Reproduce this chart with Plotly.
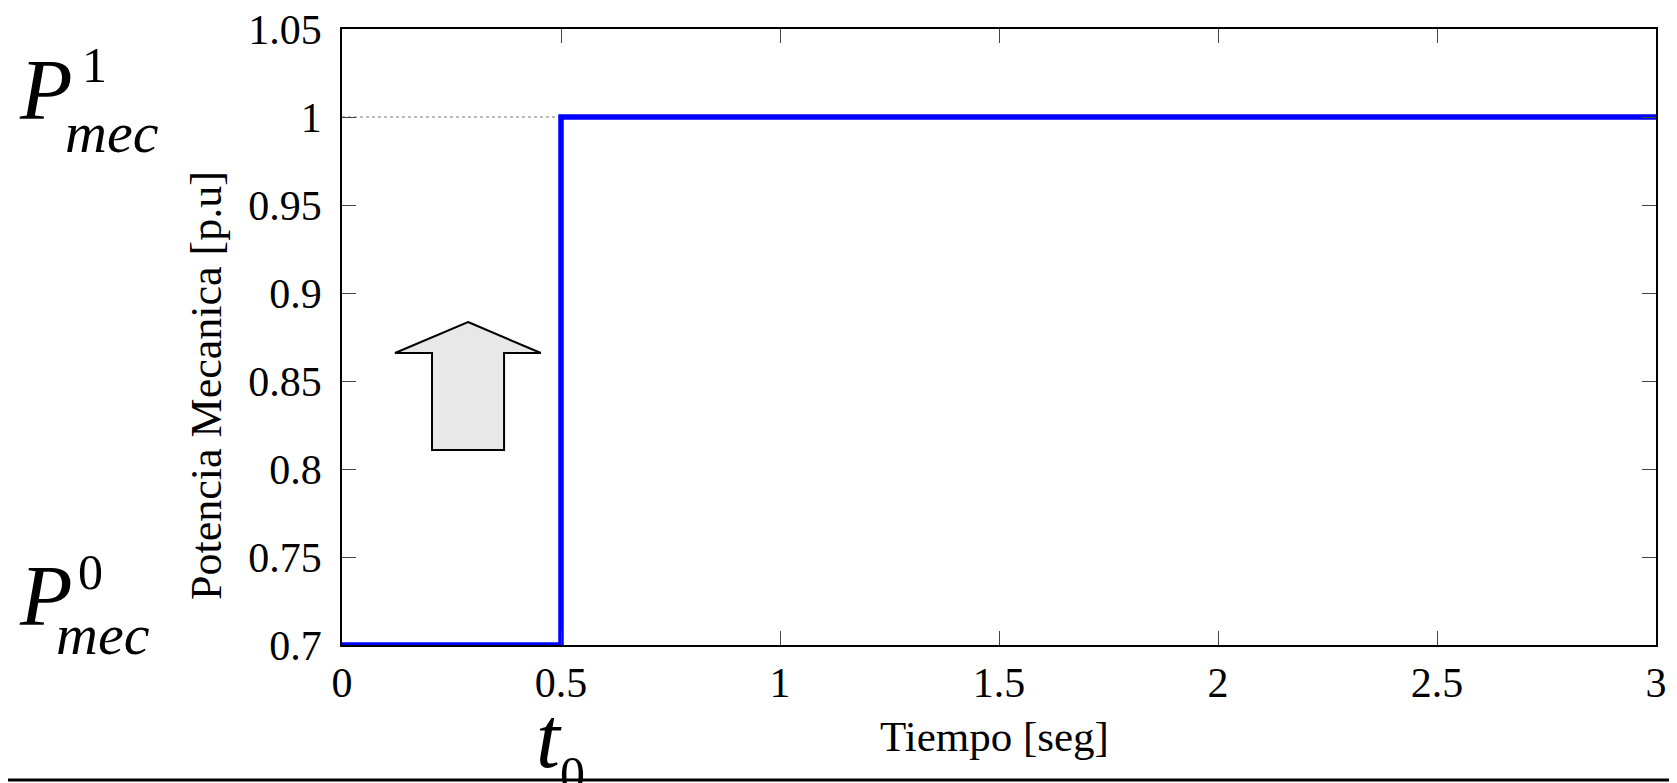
import plotly.graph_objects as go

# ---- data ----
t_step = [0, 0.5, 0.5, 3]
p_mec = [0.7, 0.7, 1.0, 1.0]
t_ref = [0, 0.5]
p_ref = [1.0, 1.0]
x_ticks = [0, 0.5, 1, 1.5, 2, 2.5, 3]
x_ticklabels = ["0", "0.5", "1", "1.5", "2", "2.5", "3"]
y_ticks = [0.7, 0.75, 0.8, 0.85, 0.9, 0.95, 1.0, 1.05]
y_ticklabels = ["0.7", "0.75", "0.8", "0.85", "0.9", "0.95", "1", "1.05"]

W, H = 1677, 783
OFF = 8  # page body margin
L, R, T, B = 334, 29, 21, 146
PW, PH = W - L - R, H - T - B

def px(xw):
    return (xw - OFF - L) / PW

def py(yw):
    return (H - B - (yw - OFF)) / PH

FONT = "Liberation Serif, Times New Roman, serif"

fig = go.Figure()
fig.add_trace(go.Scatter(x=t_ref, y=p_ref, mode="lines",
                         line=dict(color="#777777", width=1, dash="dot"),
                         showlegend=False, hoverinfo="skip"))
fig.add_trace(go.Scatter(x=t_step, y=p_mec, mode="lines",
                         line=dict(color="#0000ff", width=5.5),
                         showlegend=False))

axis_common = dict(showline=True, linecolor="black", linewidth=1.5, mirror="ticks",
                   ticks="inside", ticklen=14, tickcolor="#444444", tickwidth=1.2,
                   showgrid=False, zeroline=False, ticklabeloverflow="allow",
                   automargin=False,
                   tickfont=dict(family=FONT, size=42, color="black"))

fig.update_xaxes(range=[0, 3], tickvals=x_ticks, ticktext=x_ticklabels,
                 ticklabelstandoff=0, **axis_common)
fig.update_yaxes(range=[0.7, 1.05], tickvals=y_ticks, ticktext=y_ticklabels,
                 ticklabelstandoff=10, **axis_common)

# arrow shape (decoration)
arrow = [(0.2877, 0.8835), (0.454, 0.8659), (0.370, 0.8659), (0.370, 0.8108),
         (0.2055, 0.8108), (0.2055, 0.8659), (0.121, 0.8659)]
path = "M " + " L ".join(f"{a},{b}" for a, b in arrow) + " Z"
shapes = [
    dict(type="path", xref="x", yref="y", path=path, fillcolor="#e8e8e8",
         line=dict(color="black", width=2)),
    dict(type="line", xref="paper", yref="paper", x0=px(0), x1=px(W + 20), y0=py(780), y1=py(780),
         line=dict(color="black", width=3)),
]

ann = []
def add(text, x, y, size, italic=False, angle=0):
    if italic:
        text = f"<i>{text}</i>"
    ann.append(dict(text=text, x=px(x), y=py(y), xref="paper", yref="paper",
                    xanchor="center", yanchor="middle", showarrow=False,
                    textangle=angle, font=dict(family=FONT, size=size, color="black")))

add("Tiempo [seg]", 994, 736, 43)
add("Potencia Mecanica [p.u]", 206, 386, 44, angle=-90)
# P^1_mec
add("P", 46, 90, 86, italic=True)
add("1", 94, 65, 50)
add("mec", 112, 133, 58, italic=True)
# P^0_mec
add("P", 46, 596, 86, italic=True)
add("0", 90, 572, 50)
add("mec", 103, 634, 58, italic=True)
# t_0
add("t", 549, 738, 86, italic=True)
add("0", 572, 774, 50)

fig.update_layout(width=W, height=H, margin=dict(l=L, r=R, t=T, b=B, autoexpand=False),
                  plot_bgcolor="white", paper_bgcolor="white",
                  shapes=shapes, annotations=ann)

fig.write_html("out.html")
